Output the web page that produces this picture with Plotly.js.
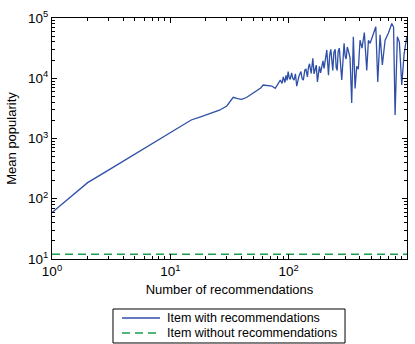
<!DOCTYPE html>
<html>
<head>
<meta charset="utf-8">
<script src="https://cdn.plot.ly/plotly-3.0.1.min.js"></script>
<style>html,body{margin:0;padding:0;background:#fff;}#chart{width:415px;height:344px;}</style>
</head>
<body>
<div id="chart"></div>
<script>
// Number of recommendations (x) and mean popularity (y)
var recX = [1, 2, 3, 4, 5, 6, 7, 8, 10, 12, 15, 18, 22, 26, 30, 34, 37, 40, 44, 47, 51, 54, 58, 61, 66, 72, 77, 81,
  85, 88, 90, 93, 95, 97, 99, 101, 103, 106, 108, 111, 114, 117, 122, 127, 130, 133, 137, 140, 144, 147, 150, 155, 160, 164, 167, 171, 175, 182, 186, 190, 195, 199, 204, 210, 217, 222, 227,
  236, 241, 247, 252, 257, 262, 268, 274, 281, 294, 300, 306, 313, 320, 330, 341, 352, 364, 376, 388, 401, 417, 436, 457, 472, 488, 504, 520, 545, 566,
  592, 619, 653, 697, 744, 770, 793, 829, 862, 903, 945, 996];
var recY = [59, 185, 299, 421, 550, 682, 820, 961, 1250, 1560, 2030, 2290, 2630, 2950, 3470, 4830, 4570, 4470, 4790, 5250, 5750, 6380, 6900, 7730, 7600, 7420, 6800, 7900,
  9330, 8200, 10500, 8510, 11200, 9200, 12900, 10200, 9550, 12300, 10100, 9330, 11800, 7410, 10700, 12900, 9800, 9330, 13800, 14100, 10500, 15200, 17400, 12000, 21400, 11800, 13200, 16500, 8710, 15800, 12300, 15500, 19500, 14500, 21800, 29500, 11200, 24000, 30200,
  13500, 26500, 30200, 15200, 13500, 27800, 31600, 17800, 9330, 38000, 23500, 20900, 33000, 28200, 22000, 3890, 49000, 6760, 15800, 14100, 42700, 31600, 57500, 13500, 42700, 38000, 45700, 58900, 71600, 8710,
  52500, 16600, 42700, 56200, 81300, 70800, 2450, 49000, 39800, 7760, 25100, 49000];
var noRecX = [1, 1000];
var noRecY = [12, 12];
var seriesNames = ['Item with recommendations', 'Item without recommendations'];

var xTickVals = [1, 10, 100, 1000];
var xTickText = ["10<sup>0</sup>", "10<sup>1</sup>", "10<sup>2</sup>", "10<sup>3</sup>"];
var yTickVals = [10, 100, 1000, 10000, 100000];
var yTickText = ["10<sup>1</sup>", "10<sup>2</sup>", "10<sup>3</sup>", "10<sup>4</sup>", "10<sup>5</sup>"];

function minorVals(lo, hi) {
  var v = [];
  for (var d = lo; d < hi; d *= 10) for (var k = 2; k <= 9; k++) v.push(d * k);
  return v;
}

var blue = '#2f4fa8', green = '#1a9e4e';
var styles = [{color: blue, width: 1.3, dash: 'solid'}, {color: green, width: 1.6, dash: '8px,5px'}];

var traces = [
  {x: recX, y: recY, type: 'scatter', mode: 'lines', name: seriesNames[0], line: styles[0]},
  {x: noRecX, y: noRecY, type: 'scatter', mode: 'lines', name: seriesNames[1], line: styles[1]}
];

var fam = 'Liberation Sans, Arial, sans-serif';

// Legend box drawn below the axes (paper coordinates)
var legBox = {x0: 0.1718, x1: 0.8254, y0: -0.3485, y1: -0.2075};
var legRows = [-0.2448, -0.3071];
var shapes = [{type: 'rect', xref: 'paper', yref: 'paper', x0: legBox.x0, x1: legBox.x1, y0: legBox.y0, y1: legBox.y1,
  line: {color: '#000', width: 1}, fillcolor: '#fff', layer: 'above'}];
var annotations = [];
seriesNames.forEach(function (n, i) {
  shapes.push({type: 'line', xref: 'paper', yref: 'paper', x0: 0.1972, x1: 0.3042, y0: legRows[i], y1: legRows[i],
    line: {color: styles[i].color, width: styles[i].width, dash: styles[i].dash}, layer: 'above'});
  annotations.push({xref: 'paper', yref: 'paper', x: 0.3183, y: legRows[i], xanchor: 'left', yanchor: 'middle',
    text: n, showarrow: false, font: {size: 12.5, family: fam, color: '#000'}});
});

var layout = {
  width: 415, height: 344,
  margin: {l: 52, r: 8, t: 18, b: 85},
  paper_bgcolor: '#fff', plot_bgcolor: '#fff',
  font: {family: fam, size: 12, color: '#000'},
  showlegend: false,
  shapes: shapes, annotations: annotations,
  xaxis: {type: 'log', range: [0, 3], tickmode: 'array', tickvals: xTickVals, ticktext: xTickText,
    ticks: 'inside', ticklen: 5, tickcolor: '#000', showline: true, linecolor: '#000', linewidth: 1,
    mirror: 'ticks', showgrid: false, zeroline: false, tickfont: {size: 13.5, family: fam, color: '#000'},
    minor: {tickmode: 'array', tickvals: minorVals(1, 1000), ticks: 'inside', ticklen: 3, tickcolor: '#000', showgrid: false},
    title: {text: 'Number of recommendations', font: {size: 13, family: fam, color: '#000'}, standoff: 6}, automargin: false},
  yaxis: {type: 'log', range: [1, 5], tickmode: 'array', tickvals: yTickVals, ticktext: yTickText,
    ticks: 'inside', ticklen: 5, tickcolor: '#000', showline: true, linecolor: '#000', linewidth: 1,
    mirror: 'ticks', showgrid: false, zeroline: false, tickfont: {size: 13.5, family: fam, color: '#000'},
    minor: {tickmode: 'array', tickvals: minorVals(10, 100000), ticks: 'inside', ticklen: 3, tickcolor: '#000', showgrid: false},
    title: {text: 'Mean popularity', font: {size: 13, family: fam, color: '#000'}, standoff: 8}, automargin: false}
};

Plotly.newPlot('chart', traces, layout, {staticPlot: true, displayModeBar: false});
</script>
</body>
</html>
